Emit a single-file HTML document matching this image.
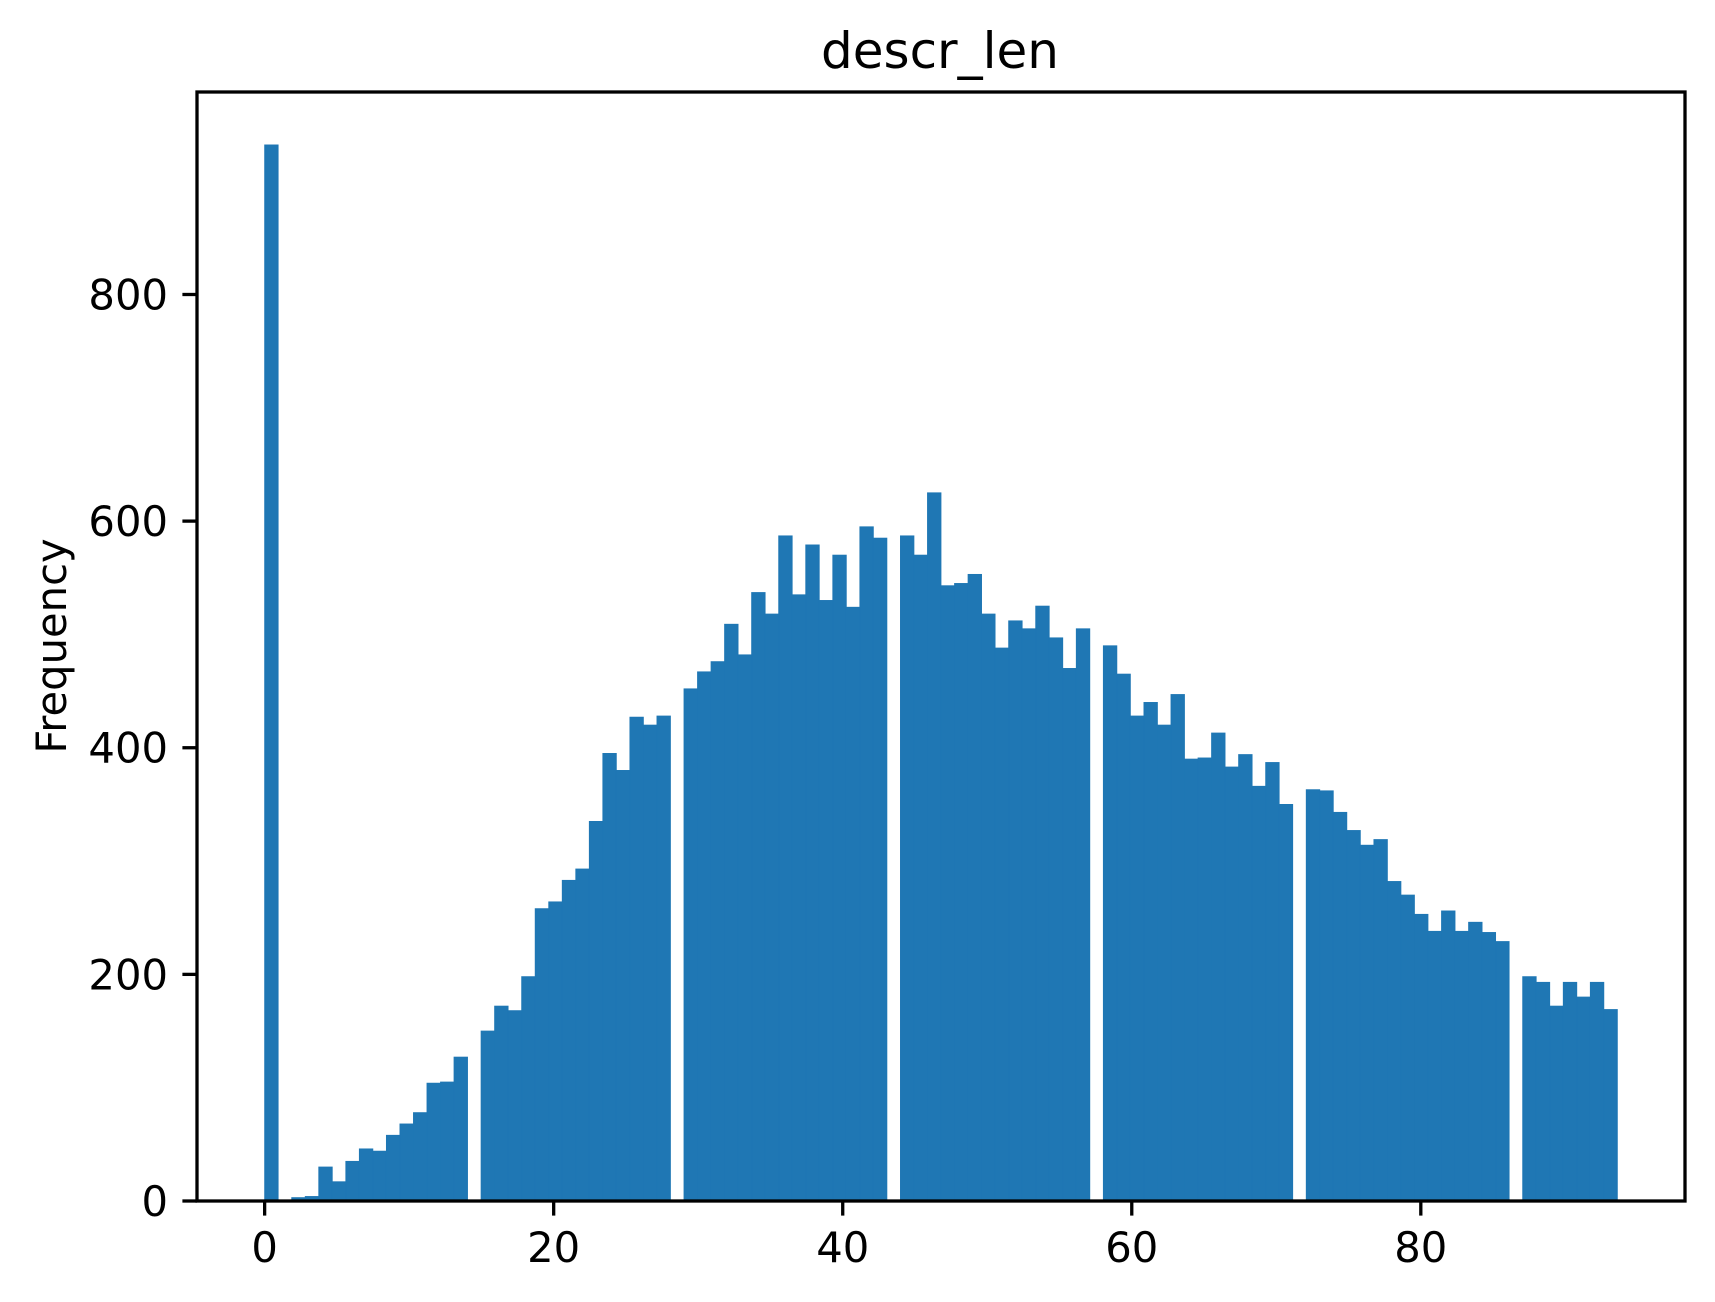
<!DOCTYPE html>
<html>
<head>
<meta charset="utf-8">
<style>
  html, body { margin: 0; padding: 0; background: #ffffff; }
  svg { display: block; }
  text { font-family: "DejaVu Sans", "Liberation Sans", sans-serif; fill: #000; }
</style>
</head>
<body>
<svg id="chart" width="1715" height="1302" viewBox="0 0 1715 1302" xmlns="http://www.w3.org/2000/svg">
  <rect x="0" y="0" width="1715" height="1302" fill="#ffffff"/>
  <text x="940" y="68" font-size="50" text-anchor="middle">descr_len</text>
  <text x="0" y="0" font-size="41.7" text-anchor="middle" transform="translate(66,646) rotate(-90)">Frequency</text>
  <g id="bars"></g>
  <g id="xticks"></g>
  <g id="yticks"></g>
  <rect x="197" y="92" width="1488" height="1109" fill="none" stroke="#000" stroke-width="3.3"/>
</svg>
<script>
const binStart = 0;
const binWidth = 0.936;
const counts = [
  932, 0, 3, 4, 30, 17, 35, 46, 44, 58,
  68, 78, 104, 105, 127, 0, 150, 172, 168, 198,
  258, 264, 283, 293, 335, 395, 380, 427, 420, 428,
  0, 452, 467, 476, 509, 482, 537, 518, 587, 535,
  579, 530, 570, 524, 595, 585, 0, 587, 570, 625,
  543, 545, 553, 518, 488, 512, 505, 525, 497, 470,
  505, 0, 490, 465, 428, 440, 420, 447, 390, 391,
  413, 383, 394, 366, 387, 350, 0, 363, 362, 343,
  327, 314, 319, 282, 270, 253, 238, 256, 238, 246,
  237, 229, 0, 198, 193, 172, 193, 180, 193, 169
];
const xTickValues = [0, 20, 40, 60, 80];
const xTickLabels = ["0", "20", "40", "60", "80"];
const yTickValues = [0, 200, 400, 600, 800];
const yTickLabels = ["0", "200", "400", "600", "800"];

const NS = "http://www.w3.org/2000/svg";
const plot = { left: 197, right: 1685, top: 92, bottom: 1201 };
const xMin = -4.68, xMax = 98.28;
const yMin = 0, yMax = 978.7;
function xScale(v) { return plot.left + (v - xMin) / (xMax - xMin) * (plot.right - plot.left); }
function yScale(v) { return plot.bottom - (v - yMin) / (yMax - yMin) * (plot.bottom - plot.top); }

const barsG = document.getElementById("bars");
counts.forEach(function (c, i) {
  if (c <= 0) return;
  const x0 = xScale(binStart + i * binWidth);
  const x1 = xScale(binStart + (i + 1) * binWidth);
  const r = document.createElementNS(NS, "rect");
  r.setAttribute("x", x0);
  r.setAttribute("y", yScale(c));
  r.setAttribute("width", x1 - x0);
  r.setAttribute("height", yScale(0) - yScale(c));
  r.setAttribute("fill", "#1f77b4");
  r.setAttribute("stroke", "#1f77b4");
  r.setAttribute("stroke-width", "0.8");
  
  
  barsG.appendChild(r);
});

const xg = document.getElementById("xticks");
xTickValues.forEach(function (v, i) {
  const x = xScale(v);
  const l = document.createElementNS(NS, "line");
  l.setAttribute("x1", x); l.setAttribute("x2", x);
  l.setAttribute("y1", plot.bottom); l.setAttribute("y2", plot.bottom + 14.6);
  l.setAttribute("stroke", "#000"); l.setAttribute("stroke-width", "3.3");
  
  
  xg.appendChild(l);
  const t = document.createElementNS(NS, "text");
  t.setAttribute("x", x); t.setAttribute("y", 1262);
  t.setAttribute("font-size", "41.7");
  t.setAttribute("text-anchor", "middle");
  t.textContent = xTickLabels[i];
  
  
  xg.appendChild(t);
});

const yg = document.getElementById("yticks");
yTickValues.forEach(function (v, i) {
  const y = yScale(v);
  const l = document.createElementNS(NS, "line");
  l.setAttribute("x1", plot.left - 14.6); l.setAttribute("x2", plot.left);
  l.setAttribute("y1", y); l.setAttribute("y2", y);
  l.setAttribute("stroke", "#000"); l.setAttribute("stroke-width", "3.3");
  
  
  yg.appendChild(l);
  const t = document.createElementNS(NS, "text");
  t.setAttribute("x", plot.left - 29); t.setAttribute("y", y + 15);
  t.setAttribute("font-size", "41.7");
  t.setAttribute("text-anchor", "end");
  t.textContent = yTickLabels[i];
  
  
  yg.appendChild(t);
});
</script>
</body>
</html>
